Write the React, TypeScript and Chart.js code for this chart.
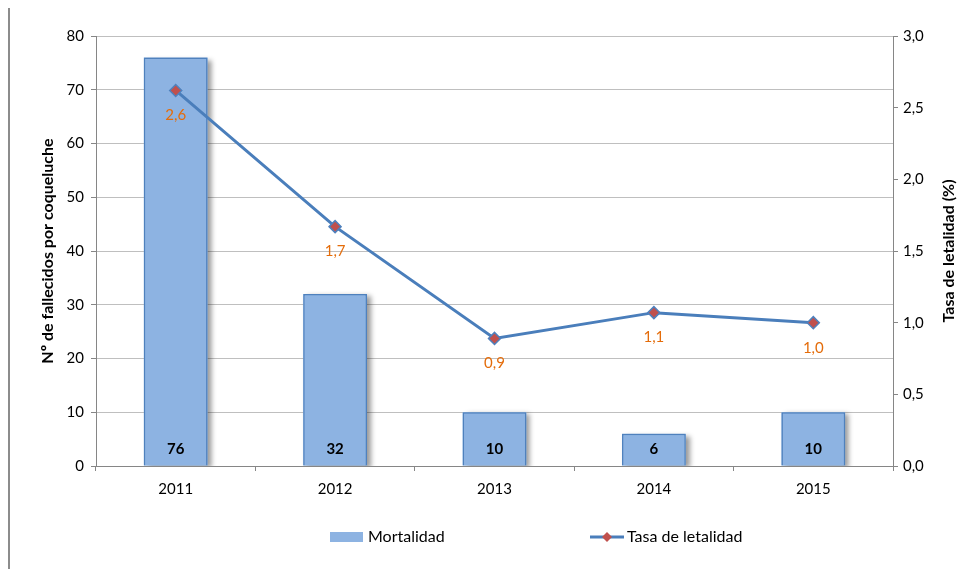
import React, { useEffect, useRef } from "react";
import { Chart, registerables } from "chart.js";

Chart.register(...registerables);

// Años y series del gráfico
const years = ["2011", "2012", "2013", "2014", "2015"];
const mortalidad = [76, 32, 10, 6, 10];
const tasaLetalidad = [2.62, 1.67, 0.89, 1.07, 1.0];

const leftTitle = "Nº de fallecidos por coqueluche";
const rightTitle = "Tasa de letalidad (%)";
const legendBar = "Mortalidad";
const legendLine = "Tasa de letalidad";

const FONT = "Lato, 'Open Sans', sans-serif";
const BAR_FILL = "#8DB3E2";
const BAR_BORDER = "#4F81BD";
const LINE_COLOR = "#4A7EBB";
const POINT_FILL = "#C0504D";
const LABEL_ORANGE = "#E46C0A";

const fmt = (v: number) => v.toFixed(1).replace(".", ",");

// Sombra suave detrás de cada barra
const barShadow = {
  id: "barShadow",
  beforeDatasetDraw(chart: any, args: any) {
    if (args.index !== 0) return;
    const ctx = chart.ctx;
    const area = chart.chartArea;
    ctx.save();
    ctx.beginPath();
    ctx.rect(area.left, area.top - 10, area.right - area.left + 10, area.bottom - area.top + 10);
    ctx.clip();
    ctx.shadowColor = "rgba(0,0,0,0.4)";
    ctx.shadowOffsetX = 4;
    ctx.shadowOffsetY = 2;
    ctx.shadowBlur = 5;
    ctx.fillStyle = BAR_FILL;
    args.meta.data.forEach((el: any) => {
      const p = el.getProps(["x", "y", "base", "width"], true);
      ctx.fillRect(p.x - p.width / 2, p.y, p.width, p.base - p.y);
    });
    ctx.restore();
  },
};

// Etiquetas de valores, títulos de ejes y leyenda
const decorations = {
  id: "decorations",
  afterDraw(chart: any) {
    const ctx = chart.ctx;
    const area = chart.chartArea;
    ctx.save();

    // valores de las barras (en la base)
    const barMeta = chart.getDatasetMeta(0);
    ctx.font = `bold 15px ${FONT}`;
    ctx.fillStyle = "#000";
    ctx.textAlign = "center";
    ctx.textBaseline = "middle";
    barMeta.data.forEach((el: any, i: number) => {
      ctx.fillText(String(mortalidad[i]), el.x, el.base - 16);
    });

    // valores de la línea
    const lineMeta = chart.getDatasetMeta(1);
    ctx.font = `15px ${FONT}`;
    ctx.fillStyle = LABEL_ORANGE;
    lineMeta.data.forEach((el: any, i: number) => {
      ctx.fillText(fmt(tasaLetalidad[i]), el.x, el.y + 25);
    });

    // títulos de ejes
    const midY = (area.top + area.bottom) / 2;
    ctx.font = `bold 16px ${FONT}`;
    ctx.fillStyle = "#000";
    ctx.save();
    ctx.translate(area.left - 48, midY);
    ctx.rotate(-Math.PI / 2);
    ctx.fillText(leftTitle, 0, 0);
    ctx.restore();
    ctx.save();
    ctx.translate(area.right + 56, midY);
    ctx.rotate(-Math.PI / 2);
    ctx.fillText(rightTitle, 0, 0);
    ctx.restore();

    // leyenda
    const ly = area.bottom + 71;
    const x0 = area.left + 234;
    ctx.fillStyle = BAR_FILL;
    ctx.fillRect(x0, ly - 5, 33, 10);
    ctx.font = `16px ${FONT}`;
    ctx.fillStyle = "#000";
    ctx.textAlign = "left";
    ctx.fillText(legendBar, x0 + 38, ly);

    const x1 = area.left + 494;
    ctx.strokeStyle = LINE_COLOR;
    ctx.lineWidth = 3;
    ctx.beginPath();
    ctx.moveTo(x1, ly);
    ctx.lineTo(x1 + 34, ly);
    ctx.stroke();
    ctx.fillStyle = POINT_FILL;
    ctx.beginPath();
    ctx.moveTo(x1 + 17, ly - 5);
    ctx.lineTo(x1 + 22, ly);
    ctx.lineTo(x1 + 17, ly + 5);
    ctx.lineTo(x1 + 12, ly);
    ctx.closePath();
    ctx.fill();
    ctx.fillStyle = "#000";
    ctx.fillText(legendLine, x1 + 37, ly);

    ctx.restore();
  },
};

export default function App() {
  const canvasRef = useRef<HTMLCanvasElement | null>(null);

  useEffect(() => {
    if (!canvasRef.current) return;
    const chart = new Chart(canvasRef.current, {
      type: "bar",
      data: {
        labels: years,
        datasets: [
          {
            type: "bar",
            label: legendBar,
            data: mortalidad,
            yAxisID: "y",
            backgroundColor: BAR_FILL,
            borderColor: BAR_BORDER,
            borderWidth: 1.5,
            categoryPercentage: 0.4,
            barPercentage: 1,
            order: 1,
          },
          {
            type: "line",
            label: legendLine,
            data: tasaLetalidad,
            yAxisID: "y1",
            borderColor: LINE_COLOR,
            borderWidth: 3,
            pointStyle: "rectRot",
            pointRadius: 6,
            pointBackgroundColor: POINT_FILL,
            pointBorderColor: BAR_BORDER,
            pointBorderWidth: 1.5,
            tension: 0,
            order: 0,
          },
        ],
      },
      options: {
        responsive: false,
        animation: false,
        layout: { padding: { top: 28, bottom: 69, left: 0, right: 0 } },
        plugins: {
          legend: { display: false },
          tooltip: { enabled: false },
        },
        scales: {
          x: {
            grid: {
              drawOnChartArea: false,
              tickLength: 5,
              color: "#868686",
            },
            border: { color: "#868686", width: 1 },
            ticks: { color: "#000", font: { family: FONT, size: 15 }, padding: 9 },
            afterFit: (s: any) => {
              s.height = 34;
            },
          },
          y: {
            position: "left",
            min: 0,
            max: 80,
            ticks: { stepSize: 10, color: "#000", font: { family: FONT, size: 15 }, padding: 7 },
            grid: { color: "#BFBFBF", tickColor: "#868686", tickLength: 5 },
            border: { color: "#868686", width: 1 },
            afterFit: (s: any) => {
              s.width = 86;
            },
          },
          y1: {
            position: "right",
            min: 0,
            max: 3,
            ticks: {
              stepSize: 0.5,
              color: "#000",
              font: { family: FONT, size: 15 },
              padding: 5,
              callback: (v: any) => fmt(Number(v)),
            },
            grid: { drawOnChartArea: false, color: "#868686", tickLength: 5 },
            border: { color: "#868686", width: 1 },
            afterFit: (s: any) => {
              s.width = 64;
            },
          },
        },
      },
      plugins: [barShadow, decorations],
    });
    return () => chart.destroy();
  }, []);

  return (
    <div
      style={{
        marginTop: -2,
        marginBottom: -8,
        borderTop: "2px solid #8c8c8c",
        borderLeft: "2px solid #8c8c8c",
        width: 955,
        height: 569,
        overflow: "hidden",
      }}
    >
      <canvas ref={canvasRef} width={947} height={561} style={{ display: "block" }} />
    </div>
  );
}
